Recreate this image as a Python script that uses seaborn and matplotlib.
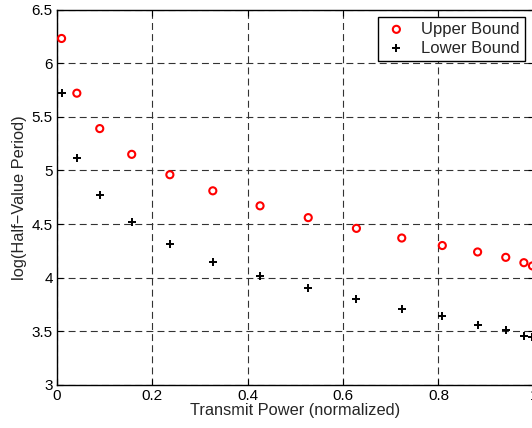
import numpy as np
import pandas as pd
import seaborn as sns
import matplotlib
matplotlib.use("Agg")
import matplotlib.pyplot as plt

# values
power = [0.01, 0.042, 0.09, 0.157, 0.237, 0.327, 0.426, 0.527, 0.628,
         0.723, 0.808, 0.882, 0.941, 0.979, 0.997]
upper = [6.23, 5.72, 5.39, 5.15, 4.96, 4.81, 4.67, 4.56, 4.46,
         4.37, 4.30, 4.24, 4.19, 4.14, 4.11]
lower = [5.72, 5.12, 4.77, 4.52, 4.31, 4.15, 4.02, 3.90, 3.80,
         3.71, 3.64, 3.56, 3.51, 3.46, 3.45]

x_ticks = [0, 0.2, 0.4, 0.6, 0.8, 1]
x_labels = ["0", "0.2", "0.4", "0.6", "0.8", "1"]
y_ticks = [3, 3.5, 4, 4.5, 5, 5.5, 6, 6.5]
y_labels = ["3", "3.5", "4", "4.5", "5", "5.5", "6", "6.5"]

df = pd.DataFrame({"power": power, "upper": upper, "lower": lower})

sns.set_style("ticks")
plt.rcParams['font.family'] = ['Liberation Sans', 'DejaVu Sans']
plt.rcParams['lines.scale_dashes'] = False

fig = plt.figure(figsize=(5.32, 4.28), dpi=100)
# the right edge of the axes falls just outside the picture, as in the reference
ax = fig.add_axes([56.8 / 532, 43 / 428, 477.1 / 532, 375.5 / 428])

sns.scatterplot(data=df, x="power", y="upper", ax=ax, marker="o", s=26,
                facecolors="none", edgecolor="red", linewidth=1.5,
                label="Upper Bound", zorder=3)
sns.scatterplot(data=df, x="power", y="lower", ax=ax, marker="+", s=30,
                color="black", linewidth=1.4, label="Lower Bound", zorder=3)

ax.set_xlim(0, 1)
ax.set_ylim(3, 6.5)
ax.set_xticks(x_ticks)
ax.set_xticklabels(x_labels)
ax.set_yticks(y_ticks)
ax.set_yticklabels(y_labels)
ax.tick_params(direction="in", top=True, right=True, length=4, width=0.8,
               labelsize=11, colors="black", pad=3)
ax.grid(True, color="0.2", linestyle=(0, (5, 3)), linewidth=0.8)
for sp in ax.spines.values():
    sp.set_visible(True)
    sp.set_color("black")
    sp.set_linewidth(1.0)

ax.set_xlabel("Transmit Power (normalized)", fontsize=11.8, labelpad=0)
ax.set_ylabel("log(Half\u2212Value Period)", fontsize=11.8, labelpad=3)

leg = ax.legend(loc="upper right", bbox_to_anchor=(525 / 532, 1 - 16.7 / 428),
                bbox_transform=fig.transFigure, borderaxespad=0, fancybox=False,
                framealpha=1, edgecolor="black", fontsize=12, handletextpad=0.7,
                borderpad=0.3, labelspacing=0.25, handlelength=1.6)
leg.get_frame().set_linewidth(1.0)

fig.savefig("out.png", dpi=100)
